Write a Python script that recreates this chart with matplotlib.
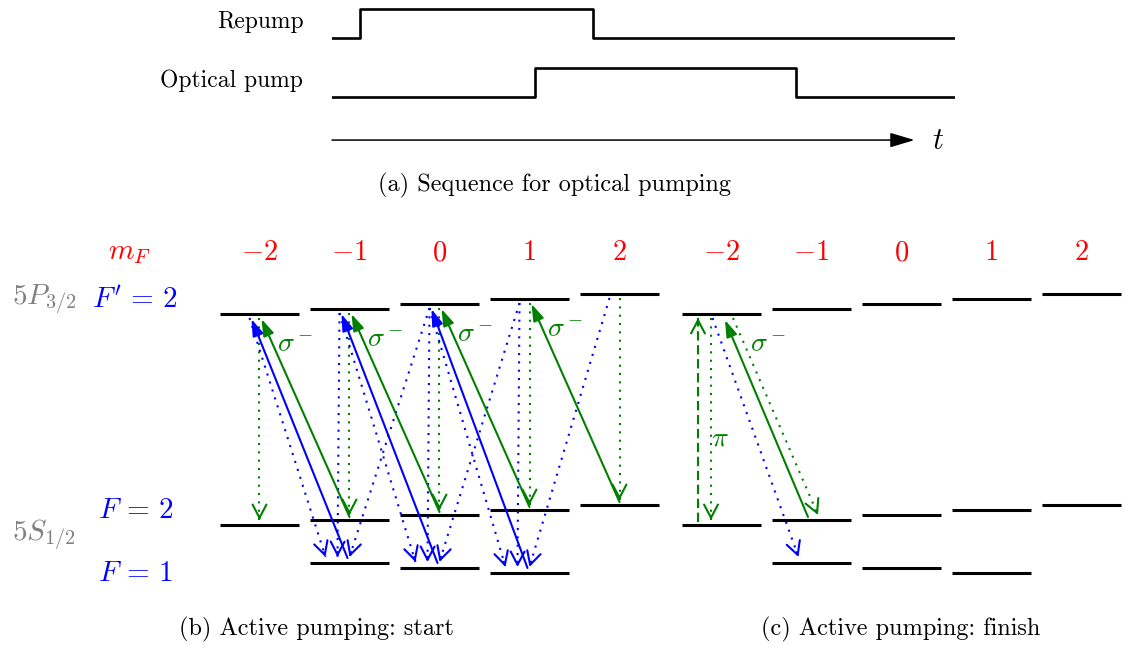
import matplotlib.pyplot as plt

plt.rcParams['mathtext.fontset'] = 'cm'
plt.rcParams['font.family'] = 'cmr10'
plt.rcParams['axes.formatter.use_mathtext'] = True

W, H = 1125, 646

# ---- timing sequence (a), time in arbitrary units ----
repump_edges = [0.45, 4.19]     # on, off
pump_edges = [3.26, 7.45]       # on, off
t_end = 10.0
t_arrow = 9.35

# ---- level scheme (b), (c) ----
m_F = [-2, -1, 0, 1, 2]
m_F1 = [-1, 0, 1]
E_P = 264      # 5P3/2 F'=2 (arb. units)
E_S2 = 53      # 5S1/2 F=2
E_S1 = 0       # 5S1/2 F=1
zeeman = 5     # shift per m_F (F=1 has the opposite sign)

# (b) start
sigma_b = [-1, 0, 1, 2]          # F=2 m -> F'=2 m-1
repump_b = [-1, 0, 1]            # F=1 m -> F'=2 m-1
decay_f1_b = [(-2, -1), (-1, -1), (-1, 0), (0, -1), (0, 0), (0, 1),
              (1, 0), (1, 1), (2, 1)]   # F'=2 mu -> F=1 ml
# (c) finish
pi_c = [-2]
sigma_c = [-1]

GREEN = '#008000'
BLUE = '#0000ff'
RED = '#ff0000'
GRAY = '#808080'
DOT = (0, (1, 3))
DASH = (0, (4.5, 2.2))

fig = plt.figure(figsize=(W / 100, H / 100), dpi=100)


def px_axes(left, top, width, height):
    ax = fig.add_axes([left / W, 1 - (top + height) / H, width / W, height / H])
    ax.axis('off')
    return ax


def E_up(m):
    return E_P + zeeman * m


def E_s2(m):
    return E_S2 + zeeman * m


def E_s1(m):
    return E_S1 - zeeman * m


def solid_arrow(ax, p0, p1, color):
    ax.annotate('', xy=p1, xytext=p0,
                arrowprops=dict(arrowstyle='-|>,head_length=1.0,head_width=0.33',
                                color=color, lw=1.5, shrinkA=0, shrinkB=0))


def open_arrow(ax, p0, p1, color, ls):
    ax.plot([p0[0], p1[0]], [p0[1], p1[1]], color=color, lw=1.5, ls=ls)
    back = (p1[0] - 0.02 * (p1[0] - p0[0]), p1[1] - 0.02 * (p1[1] - p0[1]))
    ax.annotate('', xy=p1, xytext=back,
                arrowprops=dict(arrowstyle='->,head_length=0.95,head_width=0.5',
                                color=color, lw=1.5, shrinkA=0, shrinkB=0))


# ---------------- (a) ----------------
u = 59.0
ax_a = px_axes(332, 156 - 2.6 * u, 623, 2.6 * u)
ax_a.set_xlim(0, t_end)
ax_a.set_ylim(0, 2.6)
ax_a.step([0, repump_edges[0], repump_edges[1], t_end], [2, 2.5, 2, 2],
          where='post', color='k', lw=1.9)
ax_a.step([0, pump_edges[0], pump_edges[1], t_end], [1, 1.5, 1, 1],
          where='post', color='k', lw=1.9)
ax_a.annotate('', xy=(t_arrow, 0.27), xytext=(0, 0.27),
              arrowprops=dict(arrowstyle='-|>,head_length=1.5,head_width=0.45',
                              color='k', lw=1.1, shrinkA=0, shrinkB=0))
ax_a.text(9.72, 0.25, r'$t$', fontsize=22, ha='center', va='center')
ax_a.text(-0.46, 2.27, 'Repump', fontsize=17, ha='right', va='center')
ax_a.text(-0.47, 1.27, 'Optical pump', fontsize=17, ha='right', va='center')
fig.text(555 / W, 1 - 185 / H, '(a) Sequence for optical pumping',
         fontsize=17.5, ha='center', va='center')


# ---------------- (b), (c) ----------------
def level_axes(xc):
    ax = px_axes(xc - 2.6 * 90, 568 - 360, 7.2 * 90, 440)
    ax.set_xlim(-4.6, 2.6)
    ax.set_ylim(-80, 360)
    hw = 39.5 / 90
    for m in m_F:
        ax.plot([m - hw, m + hw], [E_up(m)] * 2, color='k', lw=2.2, solid_capstyle='butt')
        ax.plot([m - hw, m + hw], [E_s2(m)] * 2, color='k', lw=2.2, solid_capstyle='butt')
        ax.text(m, 315, r'$%d$' % m if m >= 0 else r'$-%d$' % -m,
                fontsize=20.5, color=RED, ha='center', va='center')
    for m in m_F1:
        ax.plot([m - hw, m + hw], [E_s1(m)] * 2, color='k', lw=2.2, solid_capstyle='butt')
    return ax


ax_b = level_axes(259.5)
ax_b.text(-3.44, 315, r'$m_F$', fontsize=21, color=RED, ha='center', va='center')
ax_b.text(-4.39, 268, r'$5P_{3/2}$', fontsize=21, color=GRAY, ha='center', va='center')
ax_b.text(-3.38, 268, r"$F'\,=\,2$", fontsize=21, color=BLUE, ha='center', va='center')
ax_b.text(-3.38, 57, r'$F\,=\,2$', fontsize=21, color=BLUE, ha='center', va='center')
ax_b.text(-4.39, 33, r'$5S_{1/2}$', fontsize=21, color=GRAY, ha='center', va='center')
ax_b.text(-3.38, -6, r'$F\,=\,1$', fontsize=21, color=BLUE, ha='center', va='center')

# spontaneous decay F'=2 -> F=2 (same m)
for m in m_F:
    open_arrow(ax_b, (m, E_up(m) - 4), (m, E_s2(m) + 5), GREEN, DOT)
# spontaneous decay F'=2 -> F=1
for mu, ml in decay_f1_b:
    open_arrow(ax_b, (mu - 10 / 90, E_up(mu) - 4),
               (ml + (-12 + 12 * (mu - ml)) / 90, E_s1(ml) + 6), BLUE, DOT)
# repump from F=1
for ml in repump_b:
    solid_arrow(ax_b, (ml - 2 / 90, E_s1(ml) + 5), (ml - 1 - 8 / 90, E_up(ml - 1) - 5), BLUE)
# sigma- pump from F=2
for ml in sigma_b:
    solid_arrow(ax_b, (ml, E_s2(ml) + 3), (ml - 1 + 2 / 90, E_up(ml - 1) - 5), GREEN)
    ax_b.text(ml - 1 + 36 / 90, E_up(ml - 1) - 31, r'$\sigma^-$', fontsize=20,
              color=GREEN, ha='center', va='center')

ax_c = level_axes(721.5)
for m in pi_c:
    open_arrow(ax_c, (m - 23.5 / 90, E_s2(m) + 3), (m - 23.5 / 90, E_up(m) - 4), GREEN, DASH)
    open_arrow(ax_c, (m - 10.5 / 90, E_up(m) - 4), (m - 10.5 / 90, E_s2(m) + 5), GREEN, DOT)
    ax_c.text(m - 1.5 / 90, 130, r'$\pi$', fontsize=20, color=GREEN, ha='center', va='center')
for ml in sigma_c:
    mu = ml - 1
    open_arrow(ax_c, (mu - 9 / 90, E_up(mu) - 4), (ml - 13 / 90, E_s1(ml) + 6), BLUE, DOT)
    solid_arrow(ax_c, (ml - 3.5 / 90, E_s2(ml) + 3), (mu + 3.5 / 90, E_up(mu) - 6), GREEN)
    open_arrow(ax_c, (mu + 11.5 / 90, E_up(mu) - 4), (ml + 6.5 / 90, E_s2(ml) + 5), GREEN, DOT)
    ax_c.text(mu + 46.5 / 90, E_up(mu) - 31, r'$\sigma^-$', fontsize=20,
              color=GREEN, ha='center', va='center')

fig.text(316 / W, 1 - 629 / H, '(b) Active pumping: start',
         fontsize=17.5, ha='center', va='center')
fig.text(901 / W, 1 - 629 / H, '(c) Active pumping: finish',
         fontsize=17.5, ha='center', va='center')

fig.savefig('out.png', dpi=100)
